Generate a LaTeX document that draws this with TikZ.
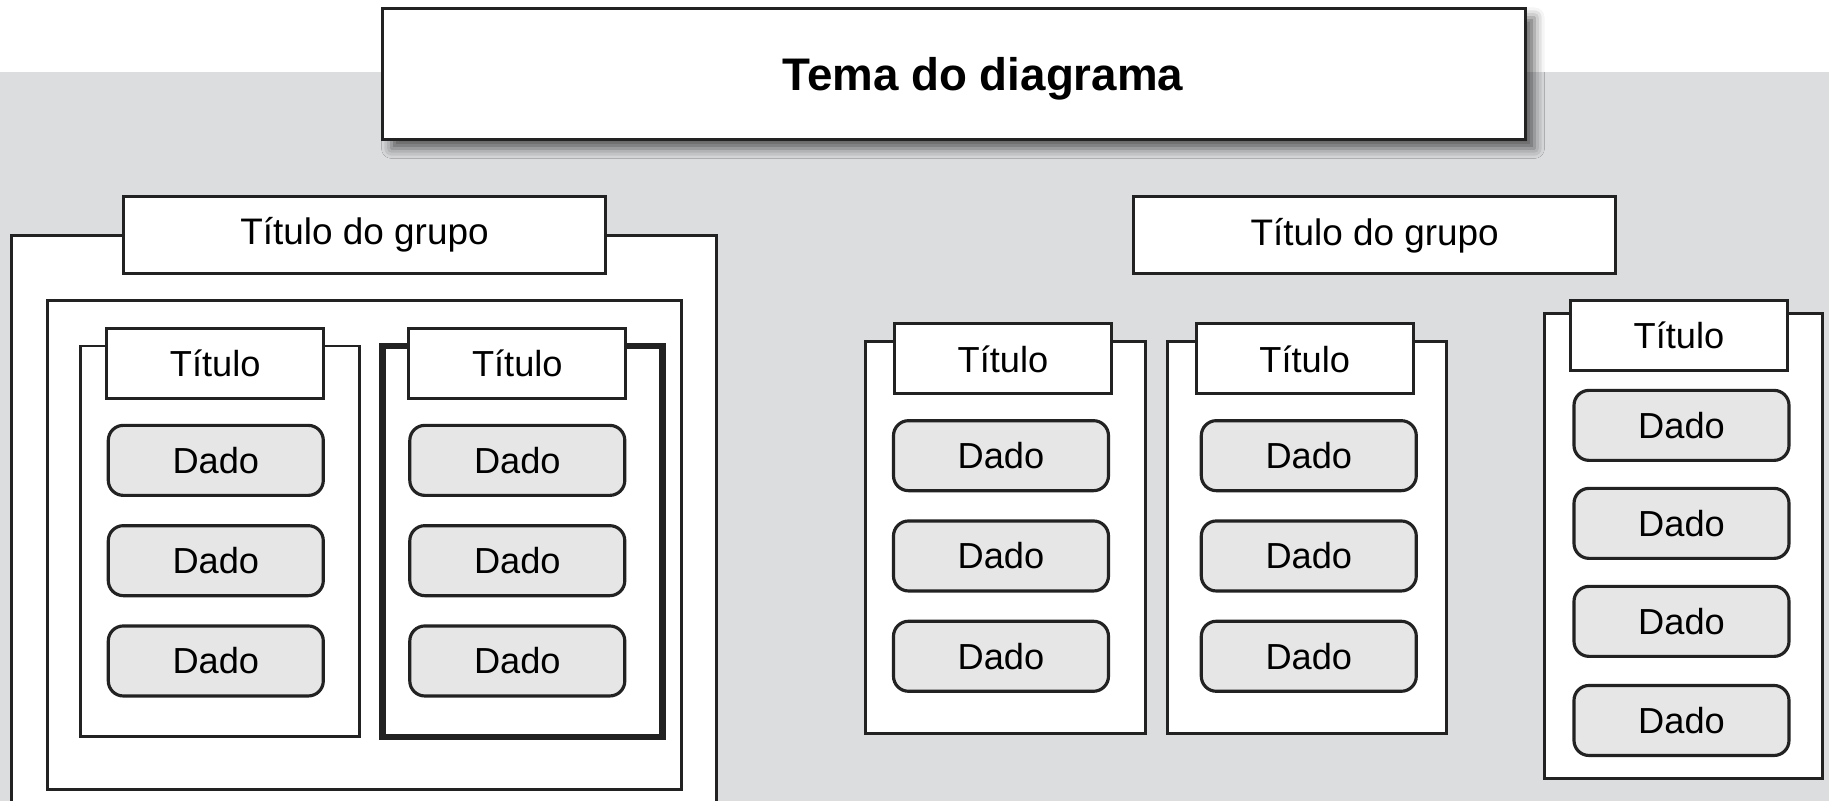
\documentclass[tikz,border=0pt]{standalone}
\usepackage{fontspec}
\setmainfont{Liberation Sans}
\usetikzlibrary{shadows.blur}
\definecolor{fundo}{HTML}{DCDDDF}
\definecolor{dadocor}{HTML}{E6E6E6}
\definecolor{traco}{HTML}{222222}

\begin{document}
\begin{tikzpicture}[
  tema/.style={draw=traco, line width=1.1pt, fill=white, minimum width=11.43cm, minimum height=1.31cm,
    font=\bfseries\fontsize{13}{15}\selectfont, text depth=0pt,
    blur shadow={shadow xshift=0.09cm, shadow yshift=-0.09cm, shadow blur radius=0.1cm, shadow opacity=60}},
  grupo/.style={draw=traco, line width=0.9pt, fill=white, minimum width=4.82cm, minimum height=0.77cm,
    font=\fontsize{10.5}{12}\selectfont},
  titulo/.style={draw=traco, line width=0.9pt, fill=white, minimum width=2.17cm, minimum height=0.70cm,
    font=\fontsize{10.3}{12}\selectfont},
  dado/.style={draw=traco, line width=0.9pt, fill=dadocor, rounded corners=0.15cm, minimum width=2.15cm,
    minimum height=0.70cm, font=\fontsize{10.3}{12}\selectfont},
  caixa/.style={draw=traco, line width=0.8pt, fill=white},
]
\useasboundingbox (0,0) rectangle (18.29,8.01);
\fill[fundo] (0,0) rectangle (18.29,7.29);

% tema
\node[tema] (tema) at (9.54,7.27) {\hspace*{0.58cm}Tema do diagrama};

% grupo da esquerda
\filldraw[caixa] (0.117,0) -- (0.117,5.658) -- (7.162,5.658) -- (7.162,0);
\node[grupo] (grupo1) at (3.645,5.658) {Título do grupo};
\draw[caixa] (0.478,0.117) rectangle (6.812,5.004);
\draw[caixa] (0.805,0.642) rectangle (3.593,4.549);
\draw[caixa, line width=1.8pt] (3.826,0.642) rectangle (6.626,4.549);
\node[titulo] (tit1) at (2.152,4.374) {Título};
\node[titulo] (tit2) at (5.173,4.374) {Título};
\foreach \n/\y in {1/3.406,2/2.403,3/1.40} {
  \node[dado] (dadoa\n) at (2.158,\y) {Dado};
  \node[dado] (dadob\n) at (5.173,\y) {Dado};
}

% grupo da direita
\node[grupo] (grupo2) at (13.747,5.657) {Título do grupo};
\draw[caixa] (8.655,0.677) rectangle (11.455,4.596);
\draw[caixa] (11.677,0.677) rectangle (14.465,4.596);
\draw[caixa] (15.444,0.222) rectangle (18.221,4.876);
\node[titulo] (tit3) at (10.03,4.421) {Título};
\node[titulo] (tit4) at (13.047,4.421) {Título};
\node[titulo] (tit5) at (16.79,4.654) {Título};
\foreach \n/\y in {1/3.453,2/2.45,3/1.447} {
  \node[dado] (dadoc\n) at (10.01,\y) {Dado};
  \node[dado] (dadod\n) at (13.088,\y) {Dado};
}
\foreach \n/\y in {1/3.756,2/2.776,3/1.796,4/0.805} {
  \node[dado] (dadoe\n) at (16.815,\y) {Dado};
}
\end{tikzpicture}
\end{document}
